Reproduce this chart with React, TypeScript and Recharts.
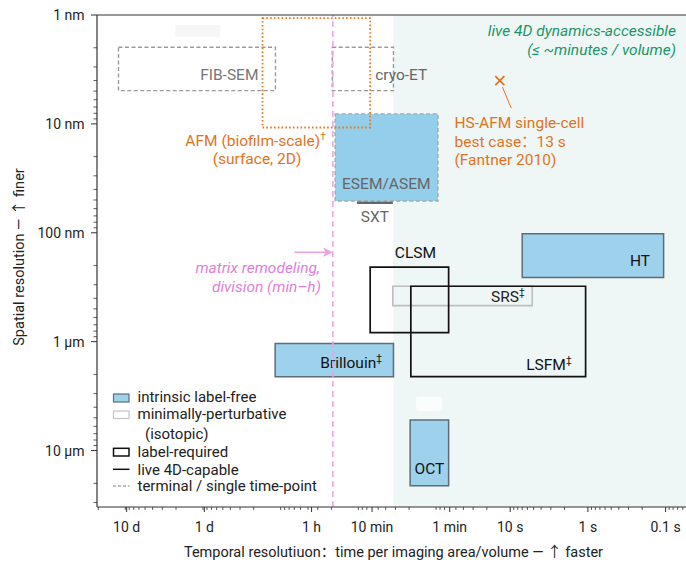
import React from 'react';
import { ComposedChart, XAxis, YAxis, ReferenceArea, ReferenceLine, Scatter } from 'recharts';

const FONT = 'Roboto, "Noto Sans", "Noto Sans CJK SC", sans-serif';

// ---- axes (time in seconds, resolution in nm) ----
const timeDomain: [number, number] = [0.0546, 2.08e6];
const resolutionDomain: [number, number] = [1, 33000];

const xTickValues = [864000, 86400, 3600, 600, 60, 10, 1, 0.1];
const xTickLabels = ['10 d', '1 d', '1 h', '10 min', '1 min', '10 s', '1 s', '0.1 s'];
const yTickValues = [1, 10, 100, 1000, 10000];
const yTickLabels = ['1 nm', '10 nm', '100 nm', '1 µm', '10 µm'];

// ---- technique boxes ----
const techniques = ['FIB-SEM', 'cryo-ET', 'ESEM/ASEM', 'Brillouin', 'HT', 'OCT', 'SRS', 'CLSM', 'LSFM', 'AFM'];
const slowTime = [1.1e6, 1950, 1790, 10600, 7.0, 194, 324, 634, 190, 15400];
const fastTime = [10500, 318, 85, 318, 0.106, 62, 5.2, 62, 1.07, 634];
const fineRes = [1.98, 1.98, 8.1, 1040, 102, 5240, 310, 207, 310, 1.07];
const coarseRes = [4.95, 4.95, 51, 2095, 258, 21100, 467, 827, 2095, 10.8];

// ---- other marks ----
const sxtTime = [940, 324];
const sxtRes = 53;
const liveThresholdTime = 320;
const matrixTime = 1915;
const matrixArrowRes = 151;
const hsAfmTime = 13.6;
const hsAfmRes = 4.0;
const ghostTimeA = [204700, 53900];
const ghostResA = [1.235, 1.58];
const ghostTimeB = [162, 76];
const ghostResB = [3200, 4300];

const minorTicks = (lo: number, hi: number, majors: number[]) => {
  const out: number[] = [];
  for (let n = -3; n <= 7; n++) {
    for (let k = 2; k <= 9; k++) {
      const v = k * Math.pow(10, n);
      if (v >= lo && v <= hi && !majors.includes(v)) out.push(v);
    }
  }
  return out;
};
const xTicksAll = [...xTickValues, ...minorTicks(timeDomain[0], timeDomain[1], xTickValues)];
const yTicksAll = [...yTickValues, ...minorTicks(resolutionDomain[0], resolutionDomain[1], yTickValues)];

const BLUE = '#9dd1ec';
const BLUE_EDGE = '#5d6d78';
const ORANGE = '#e2731e';
const PINK = '#e9a3e4';
const PINK_TEXT = '#e07fd9';
const GREEN_TEXT = '#1e946a';
const LABEL_SIZE = 15.5;

const boxStyle: Record<string, any> = {
  'FIB-SEM': { fill: 'none', stroke: '#9a9a9a', strokeWidth: 1.4, strokeDasharray: '4 2.5' },
  'cryo-ET': { fill: 'none', stroke: '#9a9a9a', strokeWidth: 1.4, strokeDasharray: '4 2.5' },
  'ESEM/ASEM': { fill: '#93ceeb', stroke: '#a8a8a8', strokeWidth: 1.4, strokeDasharray: '4 2.5' },
  Brillouin: { fill: BLUE, stroke: BLUE_EDGE, strokeWidth: 1.5 },
  HT: { fill: BLUE, stroke: BLUE_EDGE, strokeWidth: 1.5 },
  OCT: { fill: BLUE, stroke: BLUE_EDGE, strokeWidth: 1.5 },
  SRS: { fill: 'none', stroke: '#bdbdbd', strokeWidth: 1.6 },
  CLSM: { fill: 'none', stroke: '#111', strokeWidth: 1.7 },
  LSFM: { fill: 'none', stroke: '#111', strokeWidth: 1.7 },
  AFM: { fill: 'none', stroke: '#e8781e', strokeWidth: 1.8, strokeDasharray: '1.6 2.2' },
};

type LL = { anchor: 'start' | 'middle' | 'end'; ax: 'left' | 'right' | 'center'; dx: number; ay: 'top' | 'bottom' | 'middle'; dy: number; color: string; sup?: string };
const labelLayout: Record<string, LL> = {
  'FIB-SEM': { anchor: 'end', ax: 'right', dx: -17, ay: 'bottom', dy: -11, color: '#777' },
  'cryo-ET': { anchor: 'start', ax: 'left', dx: 43, ay: 'bottom', dy: -11, color: '#666' },
  'ESEM/ASEM': { anchor: 'end', ax: 'right', dx: -7.5, ay: 'bottom', dy: -12, color: '#666' },
  Brillouin: { anchor: 'end', ax: 'right', dx: -11.5, ay: 'bottom', dy: -9, color: '#111', sup: '‡' },
  HT: { anchor: 'end', ax: 'right', dx: -13.5, ay: 'bottom', dy: -12, color: '#111' },
  OCT: { anchor: 'middle', ax: 'center', dx: 0, ay: 'bottom', dy: -12, color: '#111' },
  SRS: { anchor: 'end', ax: 'right', dx: -7.5, ay: 'middle', dy: 6, color: '#222', sup: '‡' },
  CLSM: { anchor: 'middle', ax: 'center', dx: 6, ay: 'top', dy: -9.5, color: '#111' },
  LSFM: { anchor: 'end', ax: 'right', dx: -14, ay: 'bottom', dy: -7, color: '#111', sup: '‡' },
};

const makeBoxLabel = (name: string) => (props: any) => {
  const vb = props && props.viewBox;
  if (!vb) return null;
  const { x, y, width, height } = vb;
  if (name === 'AFM') {
    return (
      <g fontFamily={FONT} fontSize={LABEL_SIZE} fill={ORANGE}>
        <text x={x - 7} y={y + height + 18} textAnchor="middle">
          AFM (biofilm-scale)<tspan fontSize={10} dy={-5.5}>†</tspan>
        </text>
        <text x={x - 5.5} y={y + height + 36} textAnchor="middle">(surface, 2D)</text>
      </g>
    );
  }
  const L = labelLayout[name];
  if (!L) return null;
  const bx = L.ax === 'left' ? x : L.ax === 'right' ? x + width : x + width / 2;
  const by = L.ay === 'top' ? y : L.ay === 'bottom' ? y + height : y + height / 2;
  return (
    <text x={bx + L.dx} y={by + L.dy} textAnchor={L.anchor} fontFamily={FONT} fontSize={LABEL_SIZE} fill={L.color}>
      {name}
      {L.sup ? <tspan fontSize={10} dy={-5.5}>{L.sup}</tspan> : null}
    </text>
  );
};

const liveLabel = (props: any) => {
  const vb = props && props.viewBox;
  if (!vb) return null;
  const { x, y, width } = vb;
  return (
    <g fontFamily={FONT} fontSize={15.5} fontStyle="italic" fill={GREEN_TEXT} textAnchor="end">
      <text x={x + width - 10} y={y + 20.5}>live 4D dynamics-accessible</text>
      <text x={x + width - 10} y={y + 39.5}>(≤ ~minutes / volume)</text>
    </g>
  );
};

const XTick = (props: any) => {
  const { x, y, payload } = props;
  const i = xTickValues.indexOf(payload.value);
  if (i < 0) return <line x1={x} x2={x} y1={y} y2={y + 3} stroke="#333" strokeWidth={0.8} />;
  return (
    <g>
      <line x1={x} x2={x} y1={y} y2={y + 5} stroke="#333" strokeWidth={1} />
      <text x={x} y={y + 24.5} textAnchor="middle" fontSize={14} fill="#222" fontFamily={FONT}>
        {xTickLabels[i]}
      </text>
    </g>
  );
};

const YTick = (props: any) => {
  const { x, y, payload } = props;
  const i = yTickValues.indexOf(payload.value);
  if (i < 0) return <line x1={x} x2={x - 3.5} y1={y} y2={y} stroke="#333" strokeWidth={0.8} />;
  return (
    <g>
      <line x1={x} x2={x - 6} y1={y} y2={y} stroke="#333" strokeWidth={1} />
      <text x={x - 12.5} y={y + 5} textAnchor="end" fontSize={14} fill="#222" fontFamily={FONT}>
        {yTickLabels[i]}
      </text>
    </g>
  );
};

const xTitle = (props: any) => {
  const vb = props && props.viewBox;
  if (!vb) return null;
  return (
    <text x={vb.x + vb.width / 2 + 2} y={vb.y + 50} textAnchor="middle" fontSize={14.5} fill="#222" fontFamily={FONT}>
      Temporal resolutiuon：time per imaging area/volume — ↑ faster
    </text>
  );
};

const yTitle = (props: any) => {
  const vb = props && props.viewBox;
  if (!vb) return null;
  const cx = 24;
  const cy = vb.y + vb.height / 2 - 4;
  return (
    <text x={cx} y={cy} transform={`rotate(-90 ${cx} ${cy})`} textAnchor="middle" fontSize={14.5} fill="#222" fontFamily={FONT}>
      Spatial resolution — ↑ finer
    </text>
  );
};

const AnnotationShape = (props: any) => {
  const { cx, cy } = props;
  const kind = (props.payload && props.payload.kind) || props.kind;
  if (cx == null || cy == null) return <g />;
  if (kind === 'sxt') {
    return (
      <text x={cx} y={cy + 19.5} textAnchor="middle" fontSize={LABEL_SIZE} fill="#666" fontFamily={FONT}>SXT</text>
    );
  }
  if (kind === 'hsafm') {
    return (
      <g fontFamily={FONT}>
        <line x1={cx - 4.5} y1={cy - 4.5} x2={cx + 4.5} y2={cy + 4.5} stroke={ORANGE} strokeWidth={1.8} />
        <line x1={cx - 4.5} y1={cy + 4.5} x2={cx + 4.5} y2={cy - 4.5} stroke={ORANGE} strokeWidth={1.8} />
        <line x1={cx + 2.7} y1={cy + 6.6} x2={cx + 11.4} y2={cy + 27.6} stroke={ORANGE} strokeWidth={1} />
        <g fontSize={LABEL_SIZE} fill={ORANGE}>
          <text x={cx - 45.3} y={cy + 47.5}>HS-AFM single-cell</text>
          <text x={cx - 45.3} y={cy + 66.5}>best case：13 s</text>
          <text x={cx - 45.3} y={cy + 84}>(Fantner 2010)</text>
        </g>
      </g>
    );
  }
  if (kind === 'matrix') {
    const x0 = cx - 38.5;
    const x1 = cx - 1;
    return (
      <g fontFamily={FONT}>
        <line x1={x0} y1={cy} x2={x1 - 6} y2={cy} stroke={PINK} strokeWidth={1.5} />
        <path d={`M ${x1} ${cy} L ${x1 - 8} ${cy - 4} L ${x1 - 6} ${cy} L ${x1 - 8} ${cy + 4} Z`} fill={PINK} stroke={PINK} strokeWidth={0.8} />
        <g fontSize={15.5} fontStyle="italic" fill={PINK_TEXT} textAnchor="end">
          <text x={cx - 13} y={cy + 21}>matrix remodeling,</text>
          <text x={cx - 12} y={cy + 40}>division (min–h)</text>
        </g>
      </g>
    );
  }
  return <g />;
};

const Legend = () => (
  <svg width={686} height={567} style={{ position: 'absolute', left: 0, top: 0, pointerEvents: 'none' }}>
    <g fontFamily={FONT} fontSize={15} fill="#222">
      <rect x={113.5} y={394} width={15.5} height={8} fill={BLUE} stroke={BLUE_EDGE} strokeWidth={1.2} />
      <text x={137.5} y={402}>intrinsic label-free</text>
      <rect x={113.5} y={411} width={15.5} height={7.5} fill="#fff" stroke="#c4c4c4" strokeWidth={1.2} />
      <text x={137.5} y={419.3}>minimally-perturbative</text>
      <text x={145} y={438.5}>(isotopic)</text>
      <rect x={113.5} y={448.3} width={15.5} height={7.7} fill="#fff" stroke="#111" strokeWidth={1.5} />
      <text x={137.5} y={456.8}>label-required</text>
      <line x1={113} x2={129.5} y1={469.3} y2={469.3} stroke="#111" strokeWidth={1.5} />
      <text x={137.5} y={474.5}>live 4D-capable</text>
      <line x1={113} x2={129.5} y1={486} y2={486} stroke="#aaa" strokeWidth={1.3} strokeDasharray="3 2" />
      <text x={137.5} y={491.3}>terminal / single time-point</text>
    </g>
  </svg>
);

export default function App() {
  const annotations = [
    { x: Math.sqrt(sxtTime[0] * sxtTime[1]), y: sxtRes, kind: 'sxt' },
    { x: hsAfmTime, y: hsAfmRes, kind: 'hsafm' },
    { x: matrixTime, y: matrixArrowRes, kind: 'matrix' },
  ];
  return (
    <div style={{ position: 'absolute', left: 0, top: 0, width: 686, height: 567, background: '#fff' }}>
      <ComposedChart width={686} height={567} margin={{ top: 15, right: 0, bottom: 0, left: 0 }}>
        <XAxis
          type="number"
          dataKey="x"
          scale="log"
          domain={timeDomain}
          reversed
          allowDataOverflow
          ticks={xTicksAll}
          interval={0}
          tick={<XTick />}
          tickLine={false}
          tickSize={0}
          tickMargin={0}
          axisLine={{ stroke: '#333', strokeWidth: 1.2 }}
          height={60}
          label={xTitle}
        />
        <YAxis
          type="number"
          dataKey="y"
          scale="log"
          domain={resolutionDomain}
          reversed
          allowDataOverflow
          ticks={yTicksAll}
          interval={0}
          tick={<YTick />}
          tickLine={false}
          tickSize={0}
          tickMargin={0}
          axisLine={{ stroke: '#333', strokeWidth: 1.2 }}
          width={97}
          label={yTitle}
        />
        <ReferenceArea
          x1={liveThresholdTime}
          x2={timeDomain[0]}
          y1={resolutionDomain[0]}
          y2={resolutionDomain[1]}
          fill="#eef7f5"
          fillOpacity={1}
          stroke="none"
          ifOverflow="visible"
          label={liveLabel}
        />
        <ReferenceArea x1={ghostTimeA[0]} x2={ghostTimeA[1]} y1={ghostResA[0]} y2={ghostResA[1]} fill="#f6f6f6" fillOpacity={1} stroke="none" ifOverflow="visible" />
        <ReferenceArea x1={ghostTimeB[0]} x2={ghostTimeB[1]} y1={ghostResB[0]} y2={ghostResB[1]} fill="#ffffff" fillOpacity={0.75} stroke="none" radius={2} ifOverflow="visible" />
        {techniques.map((name, i) => {
          const s = boxStyle[name];
          return (
            <ReferenceArea
              key={name}
              x1={slowTime[i]}
              x2={fastTime[i]}
              y1={fineRes[i]}
              y2={coarseRes[i]}
              fill={s.fill}
              fillOpacity={s.fill === 'none' ? 0 : 1}
              stroke={s.stroke}
              strokeWidth={s.strokeWidth}
              strokeDasharray={s.strokeDasharray}
              strokeOpacity={1}
              ifOverflow="visible"
              label={makeBoxLabel(name)}
            />
          );
        })}
        <ReferenceLine x={matrixTime} stroke={PINK} strokeWidth={1.5} strokeDasharray="6 4" ifOverflow="visible" />
        <ReferenceLine
          segment={[{ x: sxtTime[0], y: sxtRes }, { x: sxtTime[1], y: sxtRes }]}
          stroke="#666"
          strokeWidth={2.5}
          ifOverflow="visible"
        />
        <ReferenceLine y={resolutionDomain[0]} stroke="#333" strokeWidth={1.2} ifOverflow="visible" />
        <Scatter data={annotations} shape={AnnotationShape} isAnimationActive={false} legendType="none" />
      </ComposedChart>
      <Legend />
    </div>
  );
}
